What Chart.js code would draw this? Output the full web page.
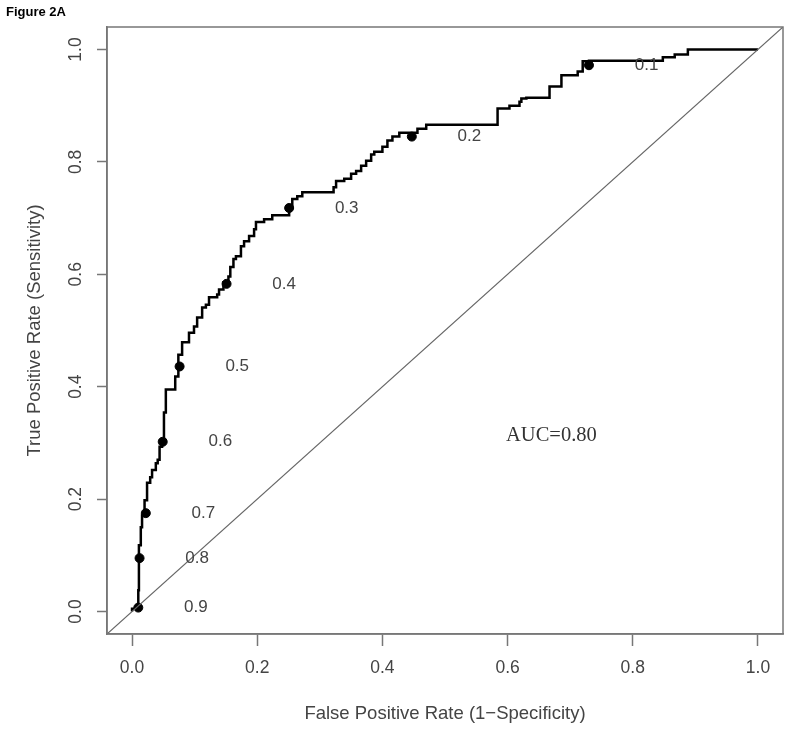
<!DOCTYPE html>
<html>
<head>
<meta charset="utf-8">
<script src="https://cdn.jsdelivr.net/npm/chart.js@4"></script>
<style>
  html, body { margin: 0; padding: 0; background: #fff; }
  #wrap { position: relative; width: 800px; height: 731px; }
</style>
</head>
<body>
<div id="wrap"><canvas id="rocChart"></canvas></div>
<script>
// ROC staircase corners (FPR, TPR)
const rocFpr = [0, 0.010, 0.011, 0.014, 0.016, 0.020, 0.024, 0.029, 0.032, 0.038, 0.041, 0.044, 0.048, 0.051, 0.054,
  0.069, 0.074, 0.080, 0.091, 0.099, 0.104, 0.112, 0.118, 0.123, 0.136, 0.139, 0.146, 0.154, 0.157, 0.162, 0.166,
  0.174, 0.179, 0.187, 0.195, 0.198, 0.211, 0.224, 0.251, 0.256, 0.264, 0.272, 0.322, 0.326, 0.339, 0.350, 0.358,
  0.366, 0.374, 0.382, 0.387, 0.400, 0.408, 0.416, 0.427, 0.456, 0.470, 0.480, 0.584, 0.603, 0.619, 0.622, 0.630,
  0.638, 0.667, 0.686, 0.694, 0.712, 0.720, 0.730, 0.848, 0.867, 0.888, 1.0];
const rocTpr = [0, 0.005, 0.038, 0.118, 0.150, 0.171, 0.198, 0.229, 0.239, 0.252, 0.264, 0.270, 0.293, 0.304, 0.354,
  0.395, 0.418, 0.457, 0.479, 0.496, 0.507, 0.523, 0.541, 0.546, 0.559, 0.564, 0.573, 0.586, 0.596, 0.613, 0.627,
  0.632, 0.650, 0.659, 0.668, 0.680, 0.693, 0.698, 0.705, 0.718, 0.734, 0.739, 0.746, 0.755, 0.766, 0.770, 0.779,
  0.784, 0.793, 0.802, 0.813, 0.818, 0.827, 0.838, 0.845, 0.852, 0.859, 0.866, 0.866, 0.895, 0.900, 0.907, 0.913,
  0.914, 0.914, 0.934, 0.954, 0.954, 0.961, 0.979, 0.980, 0.986, 0.991, 1.0];

// cutoff markers
const cutoffLabels = ['0.1', '0.2', '0.3', '0.4', '0.5', '0.6', '0.7', '0.8', '0.9'];
const cutoffFpr = [0.730, 0.447, 0.251, 0.151, 0.076, 0.049, 0.022, 0.012, 0.010];
const cutoffTpr = [0.972, 0.845, 0.718, 0.583, 0.436, 0.302, 0.175, 0.095, 0.007];

const tickValues = [0, 0.2, 0.4, 0.6, 0.8, 1.0];
const axisMin = -0.04, axisMax = 1.04;
const aucText = 'AUC=0.80';

const sans = '"Liberation Sans", Arial, sans-serif';
const textGrey = '#444';
const boxGrey = '#777';

const rocPoints = rocFpr.map((x, i) => ({ x: x, y: rocTpr[i] }));
const cutoffPoints = cutoffFpr.map((x, i) => ({ x: x, y: cutoffTpr[i] }));

const extras = {
  id: 'extras',
  afterDraw(chart) {
    const { ctx, chartArea: a, scales: { x, y } } = chart;
    ctx.save();
    // box
    ctx.strokeStyle = boxGrey;
    ctx.lineWidth = 1.5;
    ctx.strokeRect(a.left, a.top, a.right - a.left, a.bottom - a.top);

    // y tick labels, rotated like R
    ctx.fillStyle = textGrey;
    ctx.font = '17.5px ' + sans;
    ctx.textAlign = 'center';
    ctx.textBaseline = 'middle';
    tickValues.forEach(v => {
      ctx.save();
      ctx.translate(76, y.getPixelForValue(v));
      ctx.rotate(-Math.PI / 2);
      ctx.fillText(v.toFixed(1), 0, 0);
      ctx.restore();
    });

    // cutoff labels
    ctx.font = '17px ' + sans;
    cutoffLabels.forEach((t, i) => {
      ctx.fillText(t, x.getPixelForValue(cutoffFpr[i] + 0.092), y.getPixelForValue(cutoffTpr[i]));
    });

    // AUC
    ctx.fillStyle = '#333';
    ctx.font = '20.5px "Liberation Serif", "Times New Roman", serif';
    ctx.fillText(aucText, x.getPixelForValue(0.67), y.getPixelForValue(0.3125));

    // panel tag
    ctx.fillStyle = '#000';
    ctx.font = 'bold 13px ' + sans;
    ctx.textAlign = 'left';
    ctx.fillText('Figure 2A', 6, 12);
    ctx.restore();
  }
};

new Chart(document.getElementById('rocChart'), {
  type: 'scatter',
  data: {
    datasets: [
      {
        label: 'chance',
        data: [{ x: axisMin, y: axisMin }, { x: axisMax, y: axisMax }],
        showLine: true,
        borderColor: '#666',
        borderWidth: 1.2,
        pointRadius: 0
      },
      {
        label: 'ROC',
        data: rocPoints,
        showLine: true,
        stepped: 'after',
        borderColor: '#000',
        borderWidth: 2.5,
        pointRadius: 0
      },
      {
        label: 'cutoffs',
        data: cutoffPoints,
        showLine: false,
        pointRadius: 4.5,
        pointBackgroundColor: '#000',
        pointBorderColor: '#000'
      }
    ]
  },
  options: {
    responsive: true,
    maintainAspectRatio: false,
    animation: false,
    layout: { padding: { top: 27, right: 17, left: 0, bottom: 0 } },
    plugins: { legend: { display: false }, tooltip: { enabled: false } },
    scales: {
      x: {
        min: axisMin, max: axisMax,
        afterBuildTicks: s => { s.ticks = tickValues.map(v => ({ value: v })); },
        afterFit: s => { s.height = 97; },
        grid: { drawOnChartArea: false, color: boxGrey, tickLength: 12, tickWidth: 1.5 },
        border: { color: boxGrey, width: 1.5 },
        ticks: { color: textGrey, font: { family: sans, size: 17.5 }, padding: 12, maxRotation: 0,
          callback: v => v.toFixed(1) },
        title: { display: true, text: 'False Positive Rate (1\u2212Specificity)', color: textGrey,
          font: { family: sans, size: 18.5 }, padding: { top: 0, bottom: 6 } }
      },
      y: {
        min: axisMin, max: axisMax,
        afterBuildTicks: s => { s.ticks = tickValues.map(v => ({ value: v })); },
        afterFit: s => { s.width = 107; },
        grid: { drawOnChartArea: false, color: boxGrey, tickLength: 10, tickWidth: 1.5 },
        border: { color: boxGrey, width: 1.5 },
        ticks: { display: false },
        title: { display: true, text: 'True Positive Rate (Sensitivity)', color: textGrey,
          font: { family: sans, size: 18.5 }, padding: { top: 24, bottom: 0 } }
      }
    }
  },
  plugins: [extras]
});
</script>
</body>
</html>
